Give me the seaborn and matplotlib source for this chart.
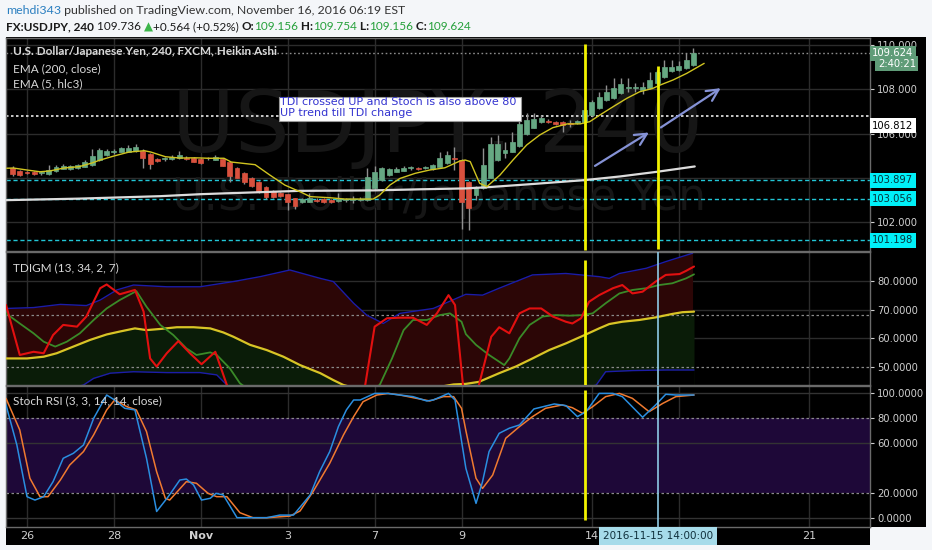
import numpy as np
import pandas as pd
import matplotlib
matplotlib.use("Agg")
import matplotlib.pyplot as plt
import seaborn as sns
from matplotlib.patches import Rectangle
from matplotlib.ticker import FuncFormatter

# ------------------------------------------------------------------ data
bars = list(range(-2, 93))
ha_open = [104.45,104.32,104.25,104.27,104.22,104.18,104.30,104.42,104.41,104.46,104.50,104.59,104.81,105.04,105.17,105.17,105.19,105.20,105.23,105.08,
           104.86,104.84,104.86,104.89,104.92,104.92,104.86,104.90,104.82,104.86,104.72,104.44,104.21,104.02,103.81,103.61,103.41,103.31,103.26,103.08,
           102.90,102.93,103.02,103.05,103.01,102.96,103.00,103.01,103.02,103.01,103.54,103.91,104.13,104.27,104.33,104.44,104.46,104.46,104.41,104.51,
           104.66,104.88,104.81,103.82,103.23,103.55,104.02,104.81,105.12,105.18,105.44,105.97,106.27,106.51,106.58,106.54,106.51,106.46,106.46,106.51,
           106.84,107.14,107.52,107.59,107.82,108.08,108.06,107.97,108.07,108.27,108.54,108.83,108.87,108.95,109.10]
ha_high = [104.54,104.36,104.32,104.32,104.30,104.60,104.58,104.63,104.58,104.65,104.80,105.30,105.35,105.30,105.30,105.42,105.50,105.52,105.30,105.12,
           104.90,104.95,105.05,105.22,104.98,104.96,104.90,104.96,105.02,104.90,104.75,104.48,104.25,104.05,103.85,103.65,103.45,103.35,103.30,103.10,
           103.12,103.32,103.08,103.10,103.05,103.32,103.10,103.19,103.15,104.45,104.55,104.50,104.47,104.50,104.55,104.55,104.50,104.55,104.65,105.19,
           105.22,105.41,104.85,103.88,103.65,105.34,105.86,105.93,105.64,106.08,106.62,106.92,106.92,106.84,106.65,106.58,106.55,106.62,106.62,107.12,
           107.50,107.89,108.19,108.50,108.50,108.50,108.27,108.32,108.77,108.85,109.32,109.30,109.28,109.63,109.85]
ha_low = [104.09,104.09,104.18,104.13,104.15,104.13,104.27,104.40,104.38,104.42,104.48,104.56,104.78,105.00,105.10,105.15,105.15,105.17,104.46,104.41,
          104.72,104.78,104.82,104.86,104.80,104.70,104.63,104.81,104.80,104.52,103.80,103.98,103.75,103.60,103.33,103.05,103.12,103.15,102.56,102.60,
          102.88,102.90,102.93,102.86,102.86,102.92,102.92,102.88,102.98,102.98,103.50,103.88,104.10,104.25,104.30,104.38,104.38,104.40,104.38,104.48,
          104.62,104.36,101.70,101.65,103.01,103.50,103.98,104.77,104.91,105.15,105.40,105.94,106.24,106.48,106.48,106.40,106.07,106.32,106.43,106.48,
          106.80,107.10,107.48,107.55,107.78,107.89,107.89,107.80,108.03,108.24,108.50,108.80,108.84,108.92,109.06]
ha_close = [104.18,104.13,104.23,104.20,104.24,104.36,104.50,104.54,104.52,104.59,104.74,104.99,105.26,105.23,105.20,105.35,105.37,105.38,104.89,104.63,
            104.77,104.87,104.96,105.04,104.85,104.73,104.66,104.88,104.96,104.56,104.09,104.02,103.81,103.65,103.38,103.16,103.16,103.20,102.90,102.75,
            103.05,103.11,102.98,102.90,102.90,103.05,103.02,103.03,103.07,104.04,104.25,104.43,104.41,104.41,104.46,104.46,104.42,104.49,104.59,104.89,
            105.04,104.84,102.93,102.64,103.59,104.59,105.52,105.52,105.26,105.62,106.43,106.62,106.66,106.69,106.51,106.43,106.39,106.42,106.57,107.07,
            107.44,107.67,107.89,108.04,108.23,108.12,108.09,108.12,108.42,108.79,109.02,109.02,109.06,109.32,109.62]

ema5_x = [-2.8,-1.9,0,1.8,3.2,5.1,7.2,9.0,10.1,12.1,14.1,16.2,17.1,19.1,21.1,23.2,25.1,27.2,28.2,31.5,33.5,35.6,37.7,39.1,41.8,43.9,47.8,48.7,
          50.1,51.5,53.6,55.6,57.7,59.8,60.5,61.2,62.1,62.5,63.5,65.3,67.1,69.0,70.8,72.6,74.6,76.4,77.7,79.1,80.9,82.8,84.6,86.4,87.4,89.2,91.1,93.5]
ema5_y = [104.44,104.45,104.36,104.28,104.32,104.45,104.51,104.68,104.81,105.00,105.17,105.23,105.17,104.96,104.90,104.91,104.89,104.89,104.72,
          104.60,104.14,103.68,103.38,103.16,103.11,103.05,103.05,103.23,103.68,103.98,104.21,104.36,104.46,104.77,104.81,104.74,104.06,103.76,
          103.61,104.13,104.81,105.49,105.94,106.27,106.44,106.44,106.54,106.84,107.21,107.59,107.89,108.04,108.19,108.42,108.72,109.17]

ema200_x = [-2.9,7.3,18.4,24.0,29.4,37.7,47.8,54.3,60.6,63.4,69.9,77.2,81.9,87.0,92.2]
ema200_y = [103.00,103.07,103.18,103.27,103.33,103.42,103.44,103.49,103.53,103.58,103.73,103.91,104.07,104.28,104.52]

price_levels = [103.897, 103.056, 101.198]
level_white = 106.812
last_price = 109.624

tdi_up_x = [-2.8,0.9,4.6,8.2,10.1,12.4,14.7,19.3,23.9,28.5,32.2,36.3,40.5,42.3,45.1,46.9,49.2,51.5,56.1,60.6,62.9,65.2,69.8,74.4,79.0,80.4,81.8,85.5,88.2,91.9]
tdi_up_y = [70.4,70.7,71.8,71.4,73.3,76.8,78.5,77.9,77.9,79.7,81.4,83.7,80.8,79.7,72.2,68.1,65.2,68.7,70.4,75.3,75.0,77.4,82.0,82.5,81.4,80.8,82.5,84.3,86.6,89.5]

tdi_red_x = [-2.9,-1.0,0.9,2.3,3.6,5.0,6.9,8.2,10.1,11.0,12.8,14.9,16.1,17.0,17.9,19.3,20.9,22.5,24.1,26.0,27.6,29.0,32.0,40.0,45.5,46.7,48.0,
             49.7,51.5,53.3,55.2,56.6,58.2,59.1,60.2,61.5,62.4,64.1,65.2,66.6,68.0,69.4,71.0,72.6,74.4,75.3,76.5,77.6,79.0,80.9,82.2,83.6,85.0,
             86.8,88.2,90.1,91.0,92.1]
tdi_red_y = [71.6,54.3,55.4,54.9,61.2,64.7,64.1,67.6,77.4,78.7,75.3,76.8,69.3,53.1,50.3,54.9,59.1,54.9,51.1,55.4,43.9,38.0,33.0,33.0,38.0,43.9,64.1,
             67.0,67.2,67.2,64.7,68.7,75.0,71.6,43.9,38.0,43.9,60.6,63.9,61.8,68.7,70.4,70.4,67.6,65.8,65.2,67.0,72.7,75.0,77.4,78.5,75.6,76.2,
             79.7,82.0,82.3,83.4,84.9]

tdi_grn_x = [-2.9,-1.0,0.9,2.3,3.9,5.5,7.3,9.2,11.0,12.8,15.1,16.5,18.4,20.2,22.0,23.4,25.3,26.2,28.0,29.4,33.0,44.0,48.7,50.4,52.0,53.3,55.2,
             57.0,58.4,60.0,60.6,62.0,63.8,65.9,66.6,68.0,69.4,71.2,73.0,74.9,76.7,78.1,79.9,81.8,83.6,85.5,87.3,89.1,91.0,92.1]
tdi_grn_y = [68.7,65.2,61.8,58.9,57.2,58.9,61.8,66.4,70.4,73.3,76.4,71.0,64.7,61.2,56.6,54.3,55.2,54.3,49.7,44.5,38.0,38.0,43.9,53.1,62.9,66.4,
             66.4,68.1,68.7,65.8,61.5,57.8,54.3,50.8,53.1,60.1,64.7,67.6,68.1,67.9,68.1,68.7,72.2,75.6,76.8,77.4,78.5,79.1,80.8,82.2]

tdi_yel_x = [-2.9,0.0,2.3,4.1,6.4,8.7,11.0,12.8,14.9,16.5,18.4,20.7,23.0,25.3,27.1,28.5,30.8,33.1,35.4,37.7,40.5,42.3,43.7,48.0,53.0,58.9,
             60.6,62.4,65.2,67.5,69.8,72.1,74.4,77.0,79.0,80.4,82.2,84.5,86.8,89.1,90.5,92.1]
tdi_yel_y = [53.1,53.1,53.7,54.9,57.2,59.5,61.4,62.4,63.5,62.9,63.3,63.9,63.9,63.5,62.1,60.6,57.8,56.0,53.7,50.8,48.0,45.6,43.9,41.0,41.5,44.1,
             44.3,45.0,48.0,50.3,53.1,56.0,58.3,61.2,63.5,65.0,65.8,66.4,67.3,68.5,69.1,69.3]

tdi_lo_x = [-2.9,4.0,7.8,9.2,11.5,14.7,19.3,23.9,26.2,27.6,30.0,50.0,70.0,78.6,79.9,83.6,88.2,92.1]
tdi_lo_y = [40.0,41.5,43.9,46.2,48.0,48.5,48.2,48.2,47.4,43.9,40.0,36.0,38.0,43.9,48.5,48.9,49.1,49.1]

stk_x = [-2.9,-1.4,0.0,1.1,2.3,3.6,5.0,6.4,7.8,9.2,11.0,12.1,13.5,14.9,16.5,17.9,19.5,21.1,22.0,23.0,24.1,25.3,26.1,27.1,29.0,30.8,33.1,
         34.9,36.8,39.1,40.4,41.8,43.0,44.1,45.1,46.0,48.0,49.7,51.5,53.3,55.2,56.1,58.2,59.1,60.6,62.0,62.9,63.8,65.2,66.6,68.0,70.0,72.8,
         74.4,76.0,77.2,79.0,80.9,82.2,85.0,86.8,88.2,89.6,92.1]
stk_y = [90.7,58.5,16.9,14.2,16.9,29.0,47.8,51.8,58.5,79.9,98.7,94.7,88.0,86.7,47.8,5.0,16.9,30.3,31.1,26.3,14.2,15.6,19.6,18.3,0.0,0.0,0.0,
         2.1,2.1,18.3,37.0,53.2,73.3,86.7,94.7,94.7,100.0,100.0,98.7,97.4,93.9,94.7,100.0,94.7,39.7,11.5,29.0,53.2,67.9,72.0,74.6,87.5,91.5,
         90.2,81.3,85.3,100.0,100.0,97.4,80.8,90.7,99.3,98.7,98.7]

std_x = [-2.9,-1.0,0.4,1.8,2.9,4.6,5.9,7.8,9.2,11.0,12.1,13.8,15.1,16.5,17.9,19.1,19.7,22.0,23.4,25.0,26.2,27.6,29.4,31.2,33.1,36.3,37.7,
         39.5,41.8,43.7,45.1,46.4,48.3,49.9,51.5,53.8,55.6,57.5,58.9,60.0,60.6,62.0,62.9,64.3,66.1,68.0,69.8,71.6,73.9,75.3,76.7,78.1,79.9,
         81.8,83.6,85.9,87.8,89.6,92.1]
std_y = [96.0,70.6,31.7,16.9,16.9,30.3,42.4,53.2,66.6,86.7,94.7,89.3,86.7,69.3,37.0,15.6,14.2,29.0,27.7,19.6,16.9,16.9,4.0,0.0,0.0,1.3,5.4,
         21.0,43.8,66.6,81.3,93.3,98.7,100.0,98.7,96.0,93.9,97.4,97.4,88.0,70.0,31.7,23.6,34.3,63.9,73.3,81.3,88.0,90.7,88.5,84.0,89.3,97.4,
         100.0,96.0,85.3,92.0,97.4,98.7]

day_ticks = [0, 12, 24, 36, 48, 60, 78, 90, 108]
day_labels = ["26", "28", "Nov", "3", "7", "9", "14", "", "21"]
yellow_bars = [77.0, 87.1]
cross_bar = 87.1
arrows = [((78.1, 104.48), (86.2, 106.12)), ((87.2, 106.21), (96.1, 108.12))]

# ------------------------------------------------------------------ style
sns.set_theme(style="dark")
plt.rcParams['font.family'] = ['DejaVu Sans']

W, H = 932, 550
fig = plt.figure(figsize=(W / 100, H / 100), dpi=100)
fig.patch.set_facecolor('#f4f6f9')


def fx(x):
    return x / W


def fy(y):
    return 1 - y / H


fig.patches.append(Rectangle((fx(6), fy(527)), fx(926) - fx(6), fy(37) - fy(527), transform=fig.transFigure,
                             fc='black', ec='none', zorder=-5))
fig.patches.append(Rectangle((fx(6), fy(545)), fx(870) - fx(6), fy(527) - fy(545), transform=fig.transFigure,
                             fc='black', ec='none', zorder=-5))

wpx = fx(870) - fx(6)
ax1 = fig.add_axes([fx(6), fy(251), wpx, fy(38) - fy(251)])
ax2 = fig.add_axes([fx(6), fy(385), wpx, fy(252) - fy(385)], sharex=ax1)
ax3 = fig.add_axes([fx(6), fy(527), wpx, fy(386) - fy(527)], sharex=ax1)

XMIN, XMAX = -2.9, 116.4
GRID = '#2c2c2c'
TXT = '#cfcfcf'
for ax in (ax1, ax2, ax3):
    ax.set_facecolor('black')
    for s in ax.spines.values():
        s.set_color('#6a6a6a')
        s.set_linewidth(1)
    ax.yaxis.tick_right()
    ax.tick_params(axis='y', colors=TXT, labelsize=7.2, length=3, width=0.8, pad=2, direction='out')
    ax.tick_params(axis='x', length=0)
    ax.set_xticks(day_ticks)
    for t in day_ticks:
        ax.axvline(t, color=GRID, lw=1, zorder=0)
    ax.grid(False)
ax1.tick_params(labelbottom=False)
ax2.tick_params(labelbottom=False)
ax1.set_xlim(XMIN, XMAX)

# ------------------------------------------------------------------ main panel
ax1.set_ylim(100.707, 110.314)
ax1.set_yticks([102, 104, 106, 108, 110])
ax1.yaxis.set_major_formatter(FuncFormatter(lambda v, p: "" if abs(v - 104) < 1e-6 else f"{v:.3f}"))
for p in [102, 104, 106, 108, 110]:
    ax1.axhline(p, color=GRID, lw=1, zorder=0)

ax1.text(56.7, 105.17, "USDJPY, 240", ha='center', va='baseline', fontsize=62, color='#161616', zorder=0.5)
ax1.text(56.9, 102.56, "U.S. Dollar/Japanese Yen", ha='center', va='baseline', fontsize=31.5, color='#161616', zorder=0.5)

for lv in price_levels:
    ax1.axhline(lv, color='#22c6d6', lw=1, ls=(0, (3, 2)), zorder=1)
ax1.axhline(level_white, color='#e8e8e8', lw=1.2, ls=(0, (1.5, 1.5)), zorder=1)
ax1.axhline(last_price, color='#8c8c8c', lw=1, ls=(0, (1.2, 1.8)), zorder=1)

o = np.array(ha_open); c = np.array(ha_close); hi = np.array(ha_high); lo = np.array(ha_low)
bx = np.array(bars)
up = c >= o
body_b = np.minimum(o, c)
body_h = np.maximum(np.abs(c - o), 0.04)
ax1.vlines(bx, lo, hi, color='#8f8f8f', lw=1, zorder=2)
ax1.bar(bx[up], body_h[up], bottom=body_b[up], width=0.68, color='#66a883', edgecolor='#66a883', lw=0.5, zorder=3)
ax1.bar(bx[~up], body_h[~up], bottom=body_b[~up], width=0.68, color='#d9513e', edgecolor='#d9513e', lw=0.5, zorder=3)

sns.lineplot(x=ema200_x, y=ema200_y, ax=ax1, color='#dcdcdc', linewidth=1.6, legend=False, errorbar=None, zorder=4)
sns.lineplot(x=ema5_x, y=ema5_y, ax=ax1, color='#d0c420', linewidth=1.0, legend=False, errorbar=None, zorder=4)

ax1.vlines(yellow_bars[0], 100.75, 110.04, color='#f2f200', lw=2, zorder=6)
ax1.vlines(yellow_bars[1], 100.80, 109.06, color='#f2f200', lw=2, zorder=6)
for (x0, y0), (x1, y1) in arrows:
    ax1.annotate("", xy=(x1, y1), xytext=(x0, y0),
                 arrowprops=dict(arrowstyle='->,head_length=0.7,head_width=0.35', color='#8592d6', lw=1.6), zorder=6)


def lab(ax, yv, s, fc, tc, xoff=1.0025):
    ax.text(xoff, yv, s, transform=ax.get_yaxis_transform(), ha='left', va='center', fontsize=7.2, color=tc,
            bbox=dict(boxstyle='square,pad=0.25', fc=fc, ec='none'), zorder=10, clip_on=False)


lab(ax1, last_price, "109.624", '#5f9c78', 'white')
lab(ax1, 109.15, "2:40:21", '#5f9c78', 'white', xoff=1.009)
lab(ax1, 106.345, "106.812", 'white', 'black')
for lv in price_levels:
    lab(ax1, lv, f"{lv:.3f}", '#00f0f8', '#06343c')

ax1.set_xlabel(''); ax1.set_ylabel('')

# ------------------------------------------------------------------ TDI panel
ax2.set_ylim(43.91, 89.93)
ax2.set_yticks([50, 60, 70, 80])
ax2.yaxis.set_major_formatter(FuncFormatter(lambda v, p: f"{v:.4f}"))
for v in [60, 70, 80]:
    ax2.axhline(v, color=GRID, lw=1, zorder=0)
ax2.fill_between(tdi_up_x, tdi_up_y, 0, color='#2c0606', lw=0, zorder=1)
ax2.fill_between(tdi_yel_x, tdi_yel_y, 0, color='#0a1c08', lw=0, zorder=1.1)
ax2.fill_between(tdi_lo_x, tdi_lo_y, 0, color='black', lw=0, zorder=1.2)
ax2.axhline(68, color='#8a8a8a', lw=0.9, ls=(0, (2, 2)), zorder=1.5)
ax2.axhline(50, color='#8a8a8a', lw=0.9, ls=(0, (2, 2)), zorder=1.5)
sns.lineplot(x=tdi_up_x, y=tdi_up_y, ax=ax2, color='#1c1ca8', linewidth=1.0, legend=False, errorbar=None, zorder=2)
sns.lineplot(x=tdi_lo_x, y=tdi_lo_y, ax=ax2, color='#1c1ca8', linewidth=1.0, legend=False, errorbar=None, zorder=2)
sns.lineplot(x=tdi_yel_x, y=tdi_yel_y, ax=ax2, color='#d8c426', linewidth=1.6, legend=False, errorbar=None, zorder=3)
sns.lineplot(x=tdi_grn_x, y=tdi_grn_y, ax=ax2, color='#3a8a28', linewidth=1.3, legend=False, errorbar=None, zorder=3)
sns.lineplot(x=tdi_red_x, y=tdi_red_y, ax=ax2, color='#e21010', linewidth=1.5, legend=False, errorbar=None, zorder=4)
ax2.vlines(yellow_bars[0], 43.91, 87.2, color='#f2f200', lw=2, zorder=6)
ax2.axvline(cross_bar, color='#8ecae6', lw=1.2, zorder=6)
ax2.set_xlabel(''); ax2.set_ylabel('')

# ------------------------------------------------------------------ Stoch RSI panel
ax3.set_ylim(-7.48, 105.95)
ax3.set_yticks([0, 20, 60, 80, 100])
ax3.yaxis.set_major_formatter(FuncFormatter(lambda v, p: f"{v:.4f}"))
ax3.axhspan(20, 80, color='#1e0838', lw=0, zorder=0.5)
for v in [0, 60, 100]:
    ax3.axhline(v, color='#333333', lw=1, zorder=0.8)
ax3.axhline(80, color='#8a8a8a', lw=0.9, ls=(0, (2, 2)), zorder=1)
ax3.axhline(20, color='#8a8a8a', lw=0.9, ls=(0, (2, 2)), zorder=1)
sns.lineplot(x=std_x, y=std_y, ax=ax3, color='#f07a30', linewidth=1.1, legend=False, errorbar=None, zorder=3)
sns.lineplot(x=stk_x, y=stk_y, ax=ax3, color='#2a8ee0', linewidth=1.1, legend=False, errorbar=None, zorder=3)
ax3.vlines(yellow_bars[0], -1.9, 102.7, color='#f2f200', lw=2, zorder=6)
ax3.axvline(cross_bar, color='#8ecae6', lw=1.2, zorder=6)
ax3.set_xlabel(''); ax3.set_ylabel('')
ax3.set_xticks(day_ticks)
ax3.set_xticklabels(day_labels)
ax3.tick_params(axis='x', colors=TXT, labelsize=8, pad=3)
ax3.get_xticklabels()[2].set_fontweight('bold')
ax3.set_xlim(XMIN, XMAX)

# crosshair date label
fig.text(fx(658), fy(536), "2016-11-15 14:00:00", ha='center', va='center', fontsize=7.5, color='#10303c',
         bbox=dict(boxstyle='square,pad=0.35', fc='#a6dbea', ec='none'), zorder=20)

# ------------------------------------------------------------------ texts
sans = ['Lato', 'DejaVu Sans']
fig.text(fx(13), fy(52), "U.S. Dollar/Japanese Yen, 240, FXCM, Heikin Ashi", fontsize=8.5, color='#d8d8d8',
         family=sans, weight='bold', va='center', ha='left', zorder=20)
fig.text(fx(13), fy(69), "EMA (200, close)", fontsize=8.5, color='#d8d8d8', family=sans, va='center', zorder=20)
fig.text(fx(13), fy(84), "EMA (5, hlc3)", fontsize=8.5, color='#d8d8d8', family=sans, va='center', zorder=20)
fig.text(fx(13), fy(268), "TDIGM (13, 34, 2, 7)", fontsize=8.5, color='#d8d8d8', family=sans, va='center', zorder=20)
fig.text(fx(13), fy(401), "Stoch RSI (3, 3, 14, 14, close)", fontsize=8.5, color='#d8d8d8', family=sans, va='center', zorder=20)

# annotation box
fig.patches.append(Rectangle((fx(278.5), fy(120.7)), fx(520.5) - fx(278.5), fy(96.7) - fy(120.7), transform=fig.transFigure,
                             fc='white', ec='#9a9a9a', lw=0.8, zorder=15))
fig.text(fx(280.5), fy(102.3), "TDI crossed UP and Stoch is also above 80", fontsize=8, color='#3434d0',
         va='center', ha='left', zorder=20)
fig.text(fx(280.5), fy(113.5), "UP trend till TDI change", fontsize=8, color='#3434d0', va='center', ha='left', zorder=20)

renderer = fig.canvas.get_renderer()


def seq(x, y, parts, size):
    for s, kw in parts:
        t = fig.text(fx(x), fy(y), s, va='center', ha='left', family=sans, fontsize=size, zorder=20, **kw)
        bb = t.get_window_extent(renderer=renderer)
        x += bb.width


GRN = '#25a03a'
BLK = '#1a1a1a'
seq(6, 10, [("mehdi343", dict(color='#2b7fc0')),
            (" published on TradingView.com, November 16, 2016 06:19 EST", dict(color='#333333'))], 8.9)
seq(6, 27, [("FX:USDJPY, 240", dict(color=BLK, weight='bold')), (" 109.736 ", dict(color=BLK)),
            ("▲", dict(color='#3cb54a')), ("+0.564 (+0.52%) ", dict(color=BLK)),
            ("O:", dict(color=BLK, weight='bold')), ("109.156", dict(color=GRN)),
            (" H:", dict(color=BLK, weight='bold')), ("109.754", dict(color=GRN)),
            (" L:", dict(color=BLK, weight='bold')), ("109.156", dict(color=GRN)),
            (" C:", dict(color=BLK, weight='bold')), ("109.624", dict(color=GRN))], 8.45)

fig.savefig("out.png", dpi=100, facecolor=fig.get_facecolor())
